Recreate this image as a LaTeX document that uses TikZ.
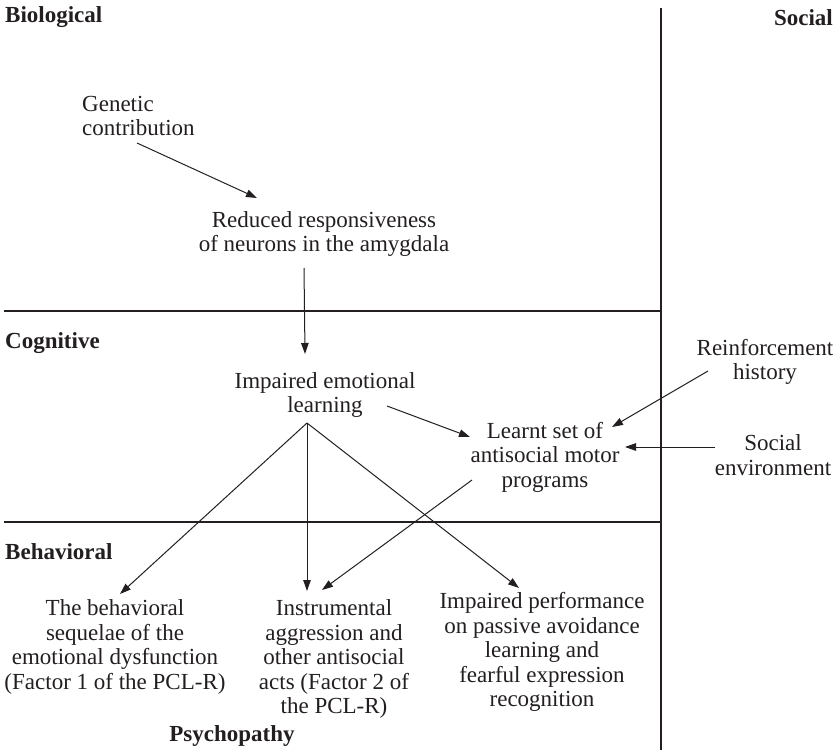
\documentclass[tikz,border=0pt]{standalone}
\usepackage{fontspec}
\setmainfont{Liberation Serif}
\usetikzlibrary{arrows.meta}
\definecolor{ink}{HTML}{231F20}
\begin{document}
\begin{tikzpicture}[x=1pt,y=-1pt,
  txt/.style={font=\fontsize{23}{24.5}\selectfont, align=center, inner sep=0pt, text=ink},
  head/.style={font=\fontsize{23}{24.5}\selectfont\bfseries, inner sep=0pt, text=ink},
  rule/.style={draw=ink, line width=1.4pt},
  link/.style={draw=ink, line width=1pt, -{Triangle[length=11pt,width=7.5pt]}}]
\useasboundingbox (0,0) rectangle (838,754);
\fill[white] (0,0) rectangle (838,754);

% level separators
\draw[rule] (661,8) -- (661,750);
\draw[rule] (4,311) -- (661,311);
\draw[rule] (4,522) -- (661,522);

% level headings
\node[head, anchor=west] (hbio) at (5,17) {Biological};
\node[head, anchor=east] (hsoc) at (833,18) {Social};
\node[head, anchor=west] (hcog) at (5,343) {Cognitive};
\node[head, anchor=west] (hbeh) at (5,552) {Behavioral};
\node[head] (hpsy) at (232,736) {Psychopathy};

% boxes of the model
\node[txt, align=left, anchor=west] (genetic) at (82,116) {Genetic\\contribution};
\node[txt] (reduced) at (324,234) {Reduced responsiveness\\of neurons in the amygdala};
\node[txt] (impaired) at (325,395) {Impaired emotional\\learning};
\node[txt] (learnt) at (545,457) {Learnt set of\\antisocial motor\\programs};
\node[txt] (reinf) at (765,362) {Reinforcement\\history};
\node[txt] (socenv) at (773,455) {Social\\environment};
\node[txt] (behav) at (115,647) {The behavioral\\sequelae of the\\emotional dysfunction\\(Factor 1 of the PCL-R)};
\node[txt] (instr) at (334,659) {Instrumental\\aggression and\\other antisocial\\acts (Factor 2 of\\the PCL-R)};
\node[txt] (perf) at (542,652) {Impaired performance\\on passive avoidance\\learning and\\fearful expression\\recognition};

% causal links
\draw[link] ([shift={(55,27)}]genetic.west) -- ([shift={(-67,-36)}]reduced.center);
\draw[link] ([shift={(-20,34)}]reduced.center) -- ([shift={(-20,-41)}]impaired.center);
\draw[link] ([shift={(62,11)}]impaired.center) -- ([shift={(-75,-20)}]learnt.center);
\draw[link] ([shift={(-57,9)}]reinf.center) -- ([shift={(67,-30)}]learnt.center);
\draw[link] ([shift={(-58,-8)}]socenv.center) -- ([shift={(80,-10)}]learnt.center);
\draw[link] ([shift={(-73,23)}]learnt.center) -- ([shift={(-12,-69)}]instr.center);
\draw[link] ([shift={(-18,28)}]impaired.center) -- ([shift={(5,-53)}]behav.center);
\draw[link] ([shift={(-18,28)}]impaired.center) -- ([shift={(-27,-68)}]instr.center);
\draw[link] ([shift={(-18,28)}]impaired.center) -- ([shift={(-23,-64)}]perf.center);
\end{tikzpicture}
\end{document}
